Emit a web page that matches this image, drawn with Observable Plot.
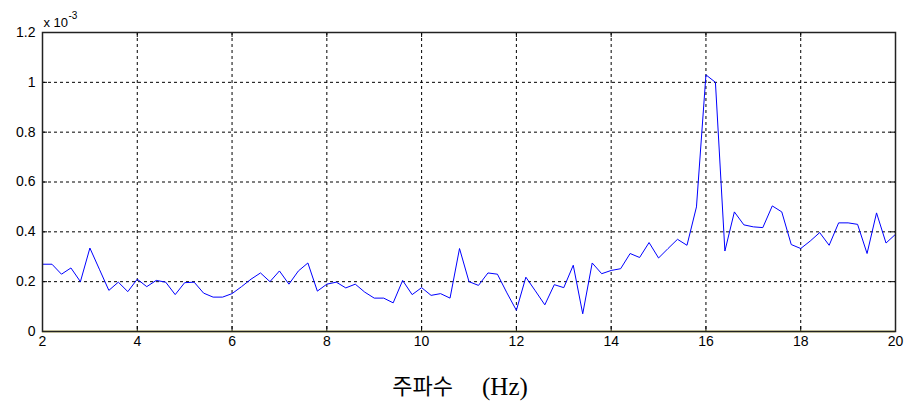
<!DOCTYPE html>
<html>
<head>
<meta charset="utf-8">
<script src="https://cdn.jsdelivr.net/npm/d3@7"></script>
<script src="https://cdn.jsdelivr.net/npm/@observablehq/plot@0.6"></script>
<style>
  html, body { margin: 0; padding: 0; background: #fff; }
  #chart svg { display: block; }
</style>
</head>
<body>
<div id="chart"></div>
<script>
// Frequency axis: 2 Hz to 20 Hz, 0.2 Hz spacing
const freqStart = 2;
const freqStep = 0.2;
// Amplitude values (units of 1e-3)
const amplitude = [
  0.270, 0.270, 0.230, 0.255, 0.200, 0.335, 0.250, 0.165, 0.198, 0.160,
  0.210, 0.180, 0.205, 0.198, 0.148, 0.196, 0.198, 0.154, 0.138, 0.138,
  0.152, 0.180, 0.210, 0.235, 0.200, 0.243, 0.190, 0.243, 0.275, 0.162,
  0.190, 0.198, 0.175, 0.190, 0.158, 0.134, 0.134, 0.115, 0.205, 0.148,
  0.176, 0.145, 0.152, 0.134, 0.333, 0.200, 0.185, 0.235, 0.230, 0.155,
  0.085, 0.218, 0.163, 0.107, 0.188, 0.176, 0.266, 0.071, 0.275, 0.232,
  0.245, 0.252, 0.313, 0.297, 0.357, 0.295, 0.333, 0.370, 0.346, 0.500,
  1.030, 1.000, 0.323, 0.480, 0.428, 0.420, 0.417, 0.504, 0.480, 0.349,
  0.333, 0.363, 0.397, 0.346, 0.436, 0.436, 0.430, 0.313, 0.476, 0.355,
  0.390
];
const frequency = amplitude.map((_, i) => +(freqStart + i * freqStep).toFixed(2));
const xTicks = [2, 4, 6, 8, 10, 12, 14, 16, 18, 20];
const yTicks = [0, 0.2, 0.4, 0.6, 0.8, 1, 1.2];
const yTickLabels = ["0", "0.2", "0.4", "0.6", "0.8", "1", "1.2"];
const xLabelKo = "주파수";
const xLabelUnit = "(Hz)";
const exponentBase = "x 10";
const exponentPower = "-3";

const data = frequency.map((f, i) => ({f, a: amplitude[i]}));

const W = 905, H = 407, ML = 42, MR = 10, MT = 32, MB = 76;
const frameW = W - ML - MR, frameH = H - MT - MB, tickLen = 5;

const chart = Plot.plot({
  width: W,
  height: H,
  marginLeft: ML,
  marginRight: MR,
  marginTop: MT,
  marginBottom: MB,
  style: {fontFamily: "'Liberation Sans', Arial, sans-serif", fontSize: "14px", color: "#000", background: "#fff"},
  x: {domain: [2, 20]},
  y: {domain: [0, 1.2]},
  marks: [
    Plot.gridX(xTicks, {stroke: "#000", strokeOpacity: 1, strokeDasharray: "3,3", strokeWidth: 1}),
    Plot.gridY(yTicks, {stroke: "#000", strokeOpacity: 1, strokeDasharray: "3,3", strokeWidth: 1}),
    // inward tick marks (MATLAB style) on all four sides
    Plot.tickX(xTicks, {x: d => d, stroke: "#000", insetTop: frameH - tickLen}),
    Plot.tickX(xTicks, {x: d => d, stroke: "#000", insetBottom: frameH - tickLen}),
    Plot.tickY(yTicks, {y: d => d, stroke: "#000", insetRight: frameW - tickLen}),
    Plot.tickY(yTicks, {y: d => d, stroke: "#000", insetLeft: frameW - tickLen}),
    Plot.ruleY([0], {stroke: "#c0b000", strokeWidth: 1.5}),
    Plot.line(data, {x: "f", y: "a", stroke: "#0000ff", strokeWidth: 1}),
    Plot.frame({stroke: "#222", strokeWidth: 1.5}),
    Plot.axisX(xTicks, {tickSize: 0, tickPadding: 5, label: null, fontSize: 14}),
    Plot.axisY(yTicks, {tickSize: 0, tickPadding: 7, label: null, fontSize: 14,
      tickFormat: d => yTickLabels[yTicks.indexOf(d)]}),
    Plot.text([exponentBase], {frameAnchor: "top-left", text: d => d, textAnchor: "start", lineAnchor: "bottom", dx: 1, dy: -6, fontSize: 13}),
    Plot.text([exponentPower], {frameAnchor: "top-left", text: d => d, textAnchor: "start", lineAnchor: "bottom", dx: 26, dy: -14, fontSize: 10}),
    Plot.text([xLabelKo], {frameAnchor: "bottom", text: d => d, textAnchor: "end", lineAnchor: "middle", dx: -16, dy: 55, fontSize: 22,
      fontFamily: "'Noto Sans CJK KR', sans-serif"}),
    Plot.text([xLabelUnit], {frameAnchor: "bottom", text: d => d, textAnchor: "start", lineAnchor: "middle", dx: 13, dy: 55, fontSize: 25,
      fontFamily: "'Liberation Serif', serif"})
  ]
});
document.getElementById("chart").appendChild(chart);
</script>
</body>
</html>
